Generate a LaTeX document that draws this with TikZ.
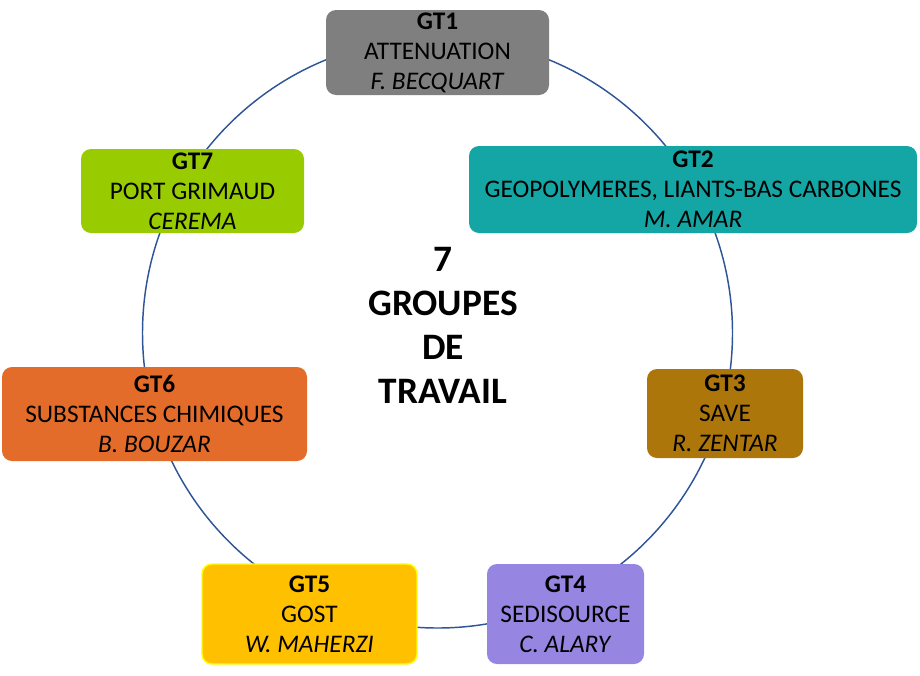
\documentclass[tikz,border=0pt]{standalone}
\usepackage{fontspec}
\setmainfont{Carlito}
\definecolor{ringblue}{HTML}{2F5597}
\definecolor{cgone}{HTML}{7F7F7F}
\definecolor{cgtwo}{HTML}{14A5A5}
\definecolor{cgthree}{HTML}{AD760B}
\definecolor{cgfour}{HTML}{9685E1}
\definecolor{cgfive}{HTML}{FFC000}
\definecolor{cgfiveb}{HTML}{FFFF00}
\definecolor{cgsix}{HTML}{E46C2A}
\definecolor{cgseven}{HTML}{99CC00}
\tikzset{
  gtbox/.style={rectangle, rounded corners=7.5pt, align=center, inner sep=0pt,
    font=\fontsize{19}{22.5}\selectfont, text=black},
  ringstyle/.style={circle, draw=ringblue, line width=1.1pt, inner sep=0pt, minimum size=442.5pt},
  centertext/.style={align=center, font=\fontsize{28}{33}\selectfont\bfseries, text=black}
}
\begin{document}
\begin{tikzpicture}[x=0.75pt,y=-0.75pt]
\useasboundingbox (0,0) rectangle (920,675);
\node[ringstyle] (ring) at (437.5,333) {};
\node[gtbox, fill=cgone, minimum width=167.25pt, minimum height=63.75pt] (g1) at (437.5,52.5)
  {\textbf{GT1}\\ATTENUATION\\\textit{F. BECQUART}};
\node[gtbox, fill=cgtwo, minimum width=336pt, minimum height=65.25pt] (g2) at (693,189.5)
  {\textbf{GT2}\\GEOPOLYMERES, LIANTS-BAS CARBONES\\\textit{M. AMAR}};
\node[gtbox, fill=cgthree, minimum width=117pt, minimum height=66.75pt] (g3) at (725,413.5)
  {\textbf{GT3}\\SAVE\\\textit{R. ZENTAR}};
\node[gtbox, fill=cgfour, minimum width=117.75pt, minimum height=75pt] (g4) at (565.5,614)
  {\textbf{GT4}\\SEDISOURCE\\\textit{C. ALARY}};
\node[gtbox, fill=cgfive, draw=cgfiveb, line width=1.1pt, minimum width=161.25pt, minimum height=75pt] (g5) at (309.5,614)
  {\textbf{GT5}\\GOST\\\textit{W. MAHERZI}};
\node[gtbox, fill=cgsix, minimum width=228.75pt, minimum height=70.5pt] (g6) at (154.5,414)
  {\textbf{GT6}\\SUBSTANCES CHIMIQUES\\\textit{B. BOUZAR}};
\node[gtbox, fill=cgseven, minimum width=167.25pt, minimum height=63pt] (g7) at (192.5,191)
  {\textbf{GT7}\\PORT GRIMAUD\\\textit{CEREMA}};
\node[centertext] (title) at (443,325) {7\\GROUPES\\DE\\TRAVAIL};
\end{tikzpicture}
\end{document}
